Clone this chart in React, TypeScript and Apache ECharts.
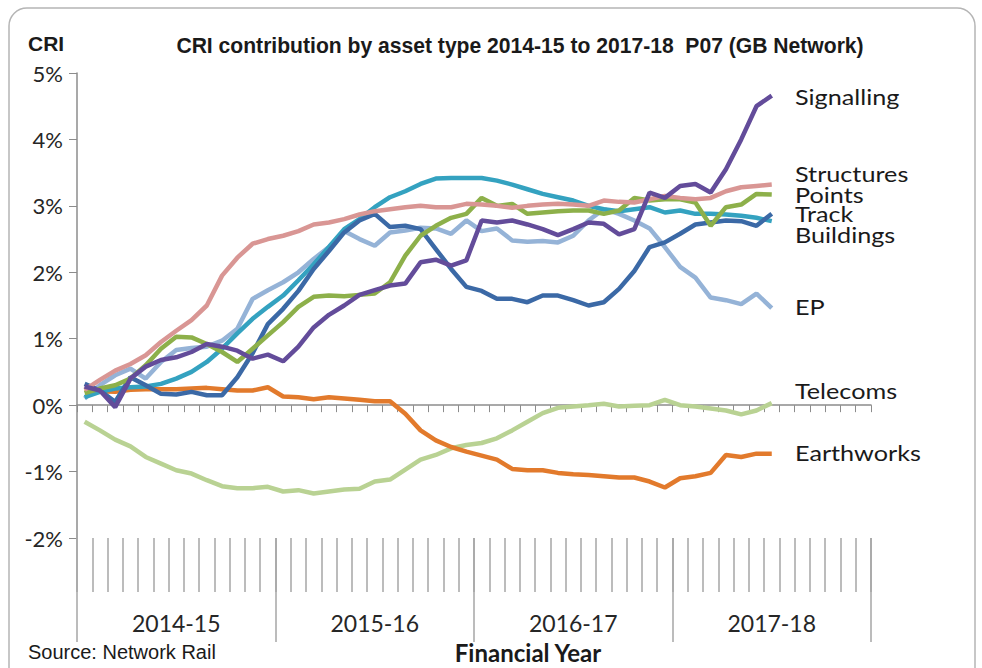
import React, { useEffect, useRef } from "react";
import * as echarts from "echarts";

const years = ["2014-15", "2015-16", "2016-17", "2017-18"];
const periodCategories = years.flatMap((y) =>
  Array.from({ length: 13 }, (_, i) => `${y} P${String(i + 1).padStart(2, "0")}`)
);

const seriesNames = ["Telecoms", "Earthworks", "EP", "Buildings", "Track", "Points", "Structures", "Signalling"];

const signalling = [0.28, 0.22, -0.03, 0.4, 0.58, 0.68, 0.72, 0.8, 0.92, 0.88, 0.82, 0.7, 0.76,
  0.66, 0.88, 1.17, 1.36, 1.5, 1.66, 1.73, 1.8, 1.83, 2.15, 2.19, 2.1, 2.18,
  2.78, 2.75, 2.78, 2.72, 2.65, 2.56, 2.65, 2.75, 2.73, 2.57, 2.65, 3.2, 3.12,
  3.3, 3.33, 3.2, 3.55, 4.0, 4.5, 4.66];
const structures = [0.23, 0.38, 0.52, 0.62, 0.75, 0.95, 1.12, 1.28, 1.5, 1.95, 2.22, 2.43, 2.5,
  2.55, 2.62, 2.72, 2.75, 2.8, 2.87, 2.92, 2.95, 2.98, 3.0, 2.98, 2.98, 3.03,
  3.02, 3.0, 2.97, 3.0, 3.02, 3.03, 3.02, 3.0, 3.08, 3.06, 3.05, 3.1, 3.15,
  3.12, 3.1, 3.12, 3.22, 3.28, 3.3, 3.32];
const points = [0.18, 0.25, 0.3, 0.4, 0.6, 0.85, 1.03, 1.02, 0.92, 0.8, 0.65, 0.85, 1.05,
  1.25, 1.48, 1.63, 1.65, 1.64, 1.66, 1.68, 1.85, 2.25, 2.55, 2.7, 2.82, 2.88,
  3.12, 3.0, 3.03, 2.88, 2.9, 2.92, 2.93, 2.93, 2.88, 2.93, 3.12, 3.08, 3.1,
  3.1, 3.05, 2.7, 2.98, 3.02, 3.18, 3.17];
const track = [0.32, 0.22, 0.05, 0.42, 0.3, 0.17, 0.16, 0.2, 0.15, 0.15, 0.42, 0.78, 1.22,
  1.45, 1.72, 2.05, 2.32, 2.6, 2.78, 2.88, 2.68, 2.7, 2.65, 2.35, 2.05, 1.78,
  1.72, 1.6, 1.6, 1.55, 1.65, 1.65, 1.58, 1.5, 1.55, 1.75, 2.02, 2.38, 2.45,
  2.58, 2.72, 2.75, 2.78, 2.77, 2.7, 2.88];
const buildings = [0.12, 0.2, 0.25, 0.27, 0.28, 0.32, 0.4, 0.5, 0.65, 0.85, 1.08, 1.3, 1.48,
  1.65, 1.88, 2.12, 2.38, 2.65, 2.8, 2.98, 3.13, 3.22, 3.33, 3.41, 3.42, 3.42,
  3.42, 3.38, 3.32, 3.25, 3.18, 3.13, 3.08, 3.0, 2.95, 2.92, 2.95, 2.98, 2.9,
  2.93, 2.88, 2.88, 2.87, 2.85, 2.82, 2.77];
const ep = [0.1, 0.3, 0.45, 0.55, 0.4, 0.65, 0.83, 0.86, 0.88, 0.97, 1.15, 1.6, 1.73,
  1.85, 2.0, 2.2, 2.38, 2.62, 2.5, 2.4, 2.6, 2.63, 2.67, 2.66, 2.58, 2.78,
  2.62, 2.66, 2.48, 2.46, 2.47, 2.45, 2.55, 2.78, 2.95, 2.88, 2.78, 2.66, 2.38,
  2.08, 1.92, 1.62, 1.58, 1.52, 1.68, 1.46];
const telecoms = [-0.25, -0.38, -0.52, -0.62, -0.78, -0.88, -0.98, -1.03, -1.13, -1.22, -1.25, -1.25, -1.23,
  -1.3, -1.28, -1.33, -1.3, -1.27, -1.26, -1.15, -1.12, -0.97, -0.82, -0.75, -0.65, -0.6,
  -0.57, -0.5, -0.38, -0.25, -0.12, -0.04, -0.02, 0.0, 0.02, -0.02, -0.01, 0.0, 0.08,
  0.0, -0.02, -0.05, -0.08, -0.14, -0.08, 0.03];
const earthworks = [0.24, 0.21, 0.2, 0.23, 0.24, 0.24, 0.24, 0.25, 0.26, 0.24, 0.22, 0.22, 0.27,
  0.13, 0.12, 0.09, 0.12, 0.1, 0.08, 0.06, 0.06, -0.13, -0.38, -0.53, -0.63, -0.7,
  -0.76, -0.82, -0.96, -0.98, -0.98, -1.02, -1.04, -1.05, -1.07, -1.09, -1.09, -1.15, -1.24,
  -1.1, -1.07, -1.02, -0.75, -0.78, -0.73, -0.73];

const seriesData = [telecoms, earthworks, ep, buildings, track, points, structures, signalling];
const seriesColors = ["#b9d293", "#e27a2c", "#95b3d7", "#34a2c0", "#3b69a6", "#8db04a", "#d99694", "#634c9a"];

const yTicks = [-2, -1, 0, 1, 2, 3, 4, 5];

export default function App() {
  const ref = useRef<HTMLDivElement>(null);
  useEffect(() => {
    document.body.style.margin = "0";
    const chart = echarts.init(ref.current!, null, { renderer: "svg" });
    const labelFont = "Lato, 'Open Sans', sans-serif";
    const endLabels = [
      { t: "Signalling", y: 97 },
      { t: "Structures", y: 174 },
      { t: "Points", y: 195 },
      { t: "Track", y: 214 },
      { t: "Buildings", y: 235 },
      { t: "EP", y: 307 },
      { t: "Telecoms", y: 391 },
      { t: "Earthworks", y: 453 },
    ];
    chart.setOption({
      animation: false,
      backgroundColor: "#ffffff",
      grid: { left: 77, top: 73, width: 794, height: 465, containLabel: false },
      xAxis: [
        {
          type: "category",
          data: periodCategories,
          position: "bottom",
          boundaryGap: true,
          axisLine: { show: true, onZero: true, lineStyle: { color: "#8c8c8c", width: 1.5 } },
          axisTick: { show: true, length: 7, interval: 0, lineStyle: { color: "#8c8c8c" } },
          axisLabel: { show: false },
          splitLine: { show: false },
        },
        {
          type: "category",
          data: periodCategories,
          position: "bottom",
          boundaryGap: true,
          axisLine: { show: false, onZero: false },
          axisTick: { show: true, length: 54, interval: 0, lineStyle: { color: "#a6a6a6", width: 1.5 } },
          axisLabel: { show: false },
          splitLine: { show: false },
        },
        {
          type: "category",
          data: years,
          position: "bottom",
          boundaryGap: true,
          axisLine: { show: false, onZero: false },
          axisTick: { show: true, length: 104, interval: 0, lineStyle: { color: "#a6a6a6", width: 1.5 } },
          axisLabel: { show: true, margin: 73, fontSize: 23, fontFamily: labelFont, color: "#262626", interval: 0 },
          splitLine: { show: false },
        },
      ],
      yAxis: {
        type: "value",
        min: yTicks[0],
        max: yTicks[yTicks.length - 1],
        interval: 1,
        axisLine: { show: true, lineStyle: { color: "#8c8c8c", width: 1.5 } },
        axisTick: { show: true, length: 8, lineStyle: { color: "#8c8c8c" } },
        axisLabel: { margin: 14, fontSize: 22, fontFamily: labelFont, color: "#262626", formatter: (v: number) => `${v}%` },
        splitLine: { show: false },
      },
      series: seriesNames.map((name, i) => ({
        name,
        type: "line",
        xAxisIndex: 0,
        data: seriesData[i],
        symbol: "none",
        smooth: false,
        lineStyle: { color: seriesColors[i], width: 4.5 },
        itemStyle: { color: seriesColors[i] },
        z: 2 + i,
      })),
      graphic: [
        {
          type: "rect",
          shape: { x: 9, y: 8, width: 966, height: 720, r: 18 },
          style: { fill: "none", stroke: "#b5b5b5", lineWidth: 1.5 },
          silent: true,
        },
        {
          type: "text",
          x: 520,
          y: 45,
          scaleX: 0.96,
          style: {
            text: "CRI contribution by asset type 2014-15 to 2017-18  P07 (GB Network)",
            font: "bold 22px 'Liberation Sans Narrow', 'Liberation Sans', Arial, sans-serif",
            fill: "#1a1a1a",
            align: "center",
            verticalAlign: "middle",
          },
        },
        {
          type: "text",
          x: 28,
          y: 43,
          style: {
            text: "CRI",
            font: "bold 21px 'Liberation Sans Narrow', 'Liberation Sans', Arial, sans-serif",
            fill: "#1a1a1a",
            align: "left",
            verticalAlign: "middle",
          },
        },
        {
          type: "text",
          x: 28,
          y: 652,
          style: {
            text: "Source: Network Rail",
            font: "20px 'Liberation Sans', Arial, sans-serif",
            fill: "#1a1a1a",
            align: "left",
            verticalAlign: "middle",
          },
        },
        {
          type: "text",
          x: 528,
          y: 652,
          style: {
            text: "Financial Year",
            font: "bold 24px Lato, sans-serif",
            fill: "#1a1a1a",
            align: "center",
            verticalAlign: "middle",
          },
        },
        ...endLabels.map((l) => ({
          type: "text",
          x: 795,
          y: l.y,
          scaleX: 1.2,
          style: {
            text: l.t,
            font: "21px Lato, sans-serif",
            fill: "#1a1a1a",
            align: "left",
            verticalAlign: "middle",
          },
        })),
      ],
    });
    return () => chart.dispose();
  }, []);
  return <div ref={ref} style={{ width: 982, height: 668 }} />;
}
